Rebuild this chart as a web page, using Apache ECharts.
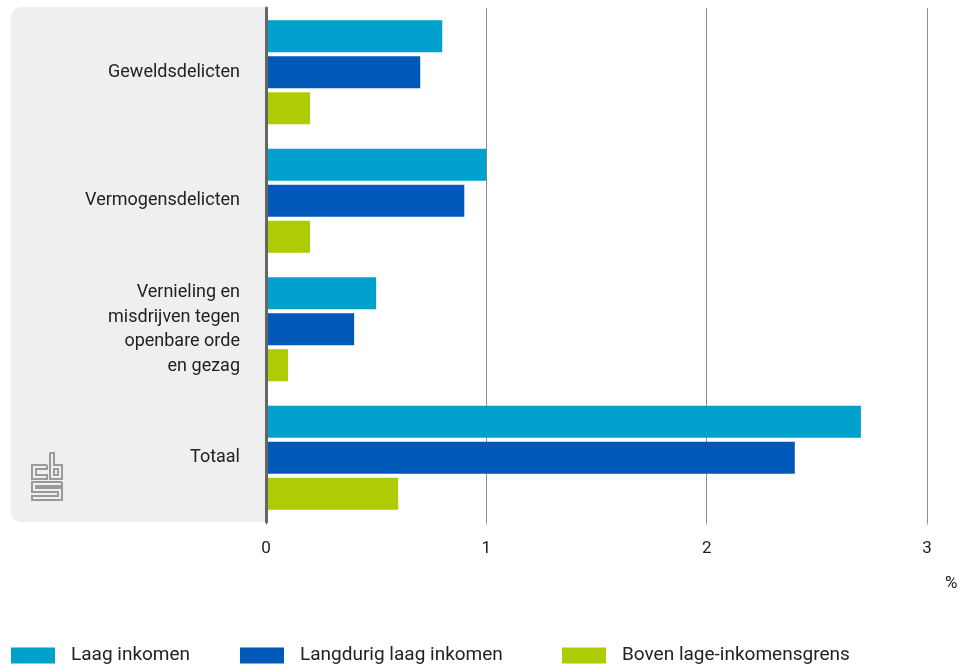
<!DOCTYPE html>
<html>
<head>
<meta charset="utf-8">
<script src="https://cdn.jsdelivr.net/npm/echarts@6/dist/echarts.min.js"></script>
<style>html,body{margin:0;padding:0;background:#fff}#c{width:966px;height:668px}</style>
</head>
<body>
<div id="c"></div>
<script>
const categories = ["Geweldsdelicten", "Vermogensdelicten", "Vernieling en\nmisdrijven tegen\nopenbare orde\nen gezag", "Totaal"];
const seriesNames = ["Laag inkomen", "Langdurig laag inkomen", "Boven lage-inkomensgrens"];
const laagInkomen = [0.8, 1.0, 0.5, 2.7];
const langdurigLaag = [0.7, 0.9, 0.4, 2.4];
const bovenGrens = [0.2, 0.2, 0.1, 0.6];
const xTicks = [0, 1, 2, 3];
const colors = ["#00a1cd", "#0058b8", "#afcb05"];

const font = "Roboto";
const chart = echarts.init(document.getElementById('c'));
const logoStyle = {stroke: '#9a9a9a', lineWidth: 2, fill: null};
const legendLefts = [11, 240, 562];
chart.setOption({
  animation: false,
  textStyle: {fontFamily: font},
  graphic: [
    {type: 'rect', z: -10, shape: {x: 11, y: 7, width: 255, height: 515, r: [10, 0, 0, 10]}, style: {fill: '#efefef'}},
    {type: 'group', x: 32, y: 453, z: 5, children: [
      {type: 'polyline', shape: {points: [[15,12],[0,12],[0,26],[15,26],[15,22],[4,22],[4,16],[15,16],[15,12]]}, style: logoStyle},
      {type: 'polyline', shape: {points: [[18,0],[18,26],[30,26],[30,12],[22,12],[22,0],[18,0]]}, style: logoStyle},
      {type: 'rect', shape: {x: 22, y: 16, width: 4, height: 6}, style: logoStyle},
      {type: 'polyline', shape: {points: [[30,29],[0,29],[0,39],[26,39],[26,43],[0,43],[0,47],[30,47],[30,35],[4,35],[4,33],[30,33],[30,29]]}, style: logoStyle}
    ]},
    {type: 'text', left: 945, top: 575, style: {text: '%', font: '17px ' + font, fill: '#222'}}
  ],
  legend: seriesNames.map((n, i) => ({
    left: legendLefts[i], top: 646, padding: 0, itemWidth: 44, itemHeight: 16,
    icon: 'rect',
    textStyle: {fontSize: 19, color: '#222', fontFamily: font, padding: [0, 0, 0, 11]},
    data: [n]
  })),
  grid: {left: 266, right: 39, top: 8, bottom: 146, containLabel: false},
  xAxis: {
    type: 'value', min: 0, max: 3, interval: 1,
    axisLine: {show: false},
    axisTick: {show: true, length: 3, lineStyle: {color: '#aaa'}},
    splitLine: {show: true, lineStyle: {color: '#8c8c8c', width: 1}},
    axisLabel: {fontSize: 17, color: '#222', margin: 18, formatter: v => xTicks.includes(v) ? String(v) : ''}
  },
  yAxis: {
    type: 'category', inverse: true, data: categories,
    axisLine: {show: true, lineStyle: {color: '#666', width: 3}},
    axisTick: {show: false},
    axisLabel: {fontSize: 18, color: '#222', margin: 26, lineHeight: 24.5, align: 'right'},
    z: 10
  },
  series: [
    {name: seriesNames[0], type: 'bar', data: laagInkomen, barWidth: 32, barGap: '12.5%', itemStyle: {color: colors[0]}},
    {name: seriesNames[1], type: 'bar', data: langdurigLaag, barWidth: 32, barGap: '12.5%', itemStyle: {color: colors[1]}},
    {name: seriesNames[2], type: 'bar', data: bovenGrens, barWidth: 32, barGap: '12.5%', itemStyle: {color: colors[2]}}
  ]
});
</script>
</body>
</html>
